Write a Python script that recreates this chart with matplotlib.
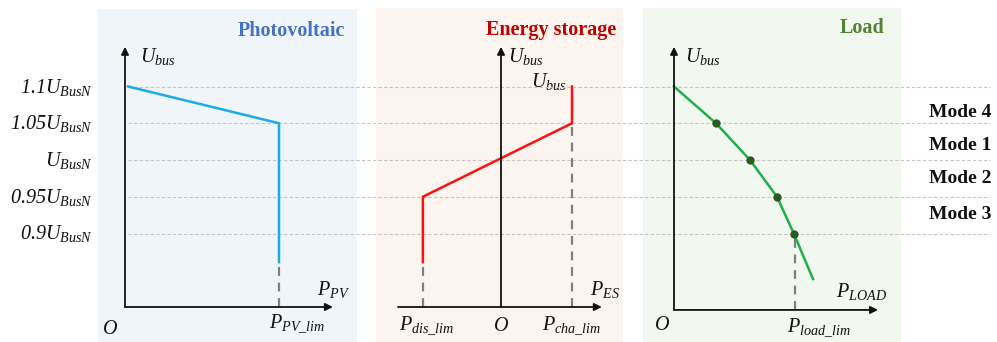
import matplotlib
matplotlib.use("Agg")
import matplotlib.pyplot as plt
from matplotlib.transforms import offset_copy

plt.rcParams['mathtext.fontset'] = 'custom'
plt.rcParams['mathtext.rm'] = 'Liberation Serif:italic'
plt.rcParams['mathtext.it'] = 'Liberation Serif:italic'
plt.rcParams['mathtext.bf'] = 'Liberation Serif:bold'
plt.rcParams['mathtext.default'] = 'it'
plt.rcParams['font.family'] = 'Liberation Serif'

# ---------------- data (per-unit voltage / per-unit power) ----------------
levels = [1.1, 1.05, 1.0, 0.95, 0.9]
level_labels = [r'$1.1U_{BusN}$', r'$1.05U_{BusN}$', r'$U_{BusN}$',
                r'$0.95U_{BusN}$', r'$0.9U_{BusN}$']
modes = ['Mode 4', 'Mode 1', 'Mode 2', 'Mode 3']

pv_P = [0.02, 1.0, 1.0]
pv_U = [1.1, 1.05, 0.861]
pv_lim = 1.0

es_P = [-1.1, -1.1, 1.0, 1.0]
es_U = [0.861, 0.95, 1.05, 1.1]
es_dis = -1.1
es_cha = 1.0

load_P = [0.0, 0.347, 0.628, 0.851, 0.99, 1.149]
load_U = [1.1, 1.05, 1.0, 0.95, 0.9, 0.838]
load_lim = 1.0

U_axis = 0.8
U_axis_load = 0.796
U_top_arrow = 1.154

# ---------------- figure ----------------
W, H = 997, 342
fig = plt.figure(figsize=(W / 100, H / 100), dpi=100)
U_bot = 1.0 - (342 - 160) / 735
U_top = 1.0 + 160 / 735

# pixel overlay (backgrounds + text)
ax_px = fig.add_axes([0, 0, 1, 1], zorder=0)
ax_px.set_xlim(0, W)
ax_px.set_ylim(H, 0)
ax_px.axis('off')

panels = [
    dict(x0=98, x1=357, y0=9, y1=342, fc='#F0F5FA'),
    dict(x0=376, x1=623, y0=8, y1=342, fc='#FCF4EF'),
    dict(x0=643, x1=901, y0=8, y1=342, fc='#F2F7EF'),
]
for p in panels:
    ax_px.add_patch(plt.Rectangle((p['x0'], p['y0']), p['x1'] - p['x0'], p['y1'] - p['y0'],
                                  facecolor=p['fc'], edgecolor='none'))

# voltage-coordinate overlay for grid lines and level labels
ax_v = fig.add_axes([0, 0, 1, 1], zorder=1)
ax_v.set_xlim(0, W)
ax_v.set_ylim(U_bot, U_top)
ax_v.axis('off')
ax_v.hlines(levels, 128, 990, colors='#C4C4C4', linewidth=0.8, linestyles=(0, (3, 2)))
tr = offset_copy(ax_v.transData, fig=fig, x=0, y=-6, units='dots')
for lv, lab in zip(levels, level_labels):
    ax_v.text(93, lv, lab, ha='right', va='baseline', fontsize=14.5, transform=tr, color='#111111')


def make_panel(x0, x1, p0, scale):
    ax = fig.add_axes([x0 / W, 0, (x1 - x0) / W, 1], zorder=2)
    ax.set_xlim((x0 - p0) / scale, (x1 - p0) / scale)
    ax.set_ylim(U_bot, U_top)
    ax.axis('off')
    ax.patch.set_visible(False)
    return ax


def arrow(ax, xy0, xy1):
    ax.annotate('', xy=xy1, xytext=xy0,
                arrowprops=dict(arrowstyle='-|>', color='#111111', lw=1.3,
                                mutation_scale=11, shrinkA=0, shrinkB=0))


dash_kw = dict(color='#7F7F7F', lw=1.6, linestyle=(0, (4, 3)))

# Panel 1 : PV
ax1 = make_panel(98, 357, 125, 154)
arrow(ax1, (0, U_axis), (0, U_top_arrow))
arrow(ax1, (0, U_axis), (1.35, U_axis))
ax1.plot([pv_lim, pv_lim], [U_axis, pv_U[-1]], **dash_kw)
ax1.plot(pv_P, pv_U, color='#1AABE8', lw=1.8, solid_joinstyle='miter')

# Panel 2 : ES
ax2 = make_panel(376, 623, 501, 71)
arrow(ax2, (0, U_axis), (0, U_top_arrow))
arrow(ax2, (-1.45, U_axis), (1.42, U_axis))
ax2.plot([es_dis, es_dis], [U_axis, es_U[0]], **dash_kw)
ax2.plot([es_cha, es_cha], [U_axis, es_U[2]], **dash_kw)
ax2.plot(es_P, es_U, color='#FF1010', lw=1.8, solid_joinstyle='miter')

# Panel 3 : Load
ax3 = make_panel(643, 901, 674, 121)
arrow(ax3, (0, U_axis_load), (0, U_top_arrow))
arrow(ax3, (0, U_axis_load), (1.686, U_axis_load))
ax3.plot([load_lim, load_lim], [U_axis_load, load_U[4]], **dash_kw)
ax3.plot(load_P, load_U, color='#1DB04B', lw=1.8)
ax3.plot(load_P[1:5], load_U[1:5], 'o', color='#2E5A22', ms=6, mec='none')

# ---------------- texts (pixel layout) ----------------
fs = 14.5
T = dict(fontsize=fs, color='#111111', va='baseline')
ax_px.text(140, 62, r'$U_{bus}$', ha='left', **T)
ax_px.text(508, 62, r'$U_{bus}$', ha='left', **T)
ax_px.text(531, 87, r'$U_{bus}$', ha='left', **T)
ax_px.text(685, 62, r'$U_{bus}$', ha='left', **T)

ax_px.text(317, 295, r'$P_{PV}$', ha='left', **T)
ax_px.text(590, 295, r'$P_{ES}$', ha='left', **T)
ax_px.text(836, 297, r'$P_{LOAD}$', ha='left', **T)

ax_px.text(110, 334, r'$O$', ha='center', **T)
ax_px.text(501, 331, r'$O$', ha='center', **T)
ax_px.text(662, 330, r'$O$', ha='center', **T)

ax_px.text(269, 328, r'$P_{PV\_lim}$', ha='left', **T)
ax_px.text(399, 330, r'$P_{dis\_lim}$', ha='left', **T)
ax_px.text(542, 330, r'$P_{cha\_lim}$', ha='left', **T)
ax_px.text(787, 332, r'$P_{load\_lim}$', ha='left', **T)

ax_px.text(345, 36, 'Photovoltaic', ha='right', va='baseline', fontsize=14.5,
           fontweight='bold', color='#4472C4')
ax_px.text(616, 35, 'Energy storage', ha='right', va='baseline', fontsize=14.5,
           fontweight='bold', color='#C00000')
ax_px.text(884, 33, 'Load', ha='right', va='baseline', fontsize=14.5,
           fontweight='bold', color='#548235')

for m, yb in zip(modes, [117, 150, 183, 219]):
    ax_px.text(991, yb, m, ha='right', va='baseline', fontsize=14,
               fontweight='bold', color='#111111')

fig.savefig('out.png', dpi=100)
